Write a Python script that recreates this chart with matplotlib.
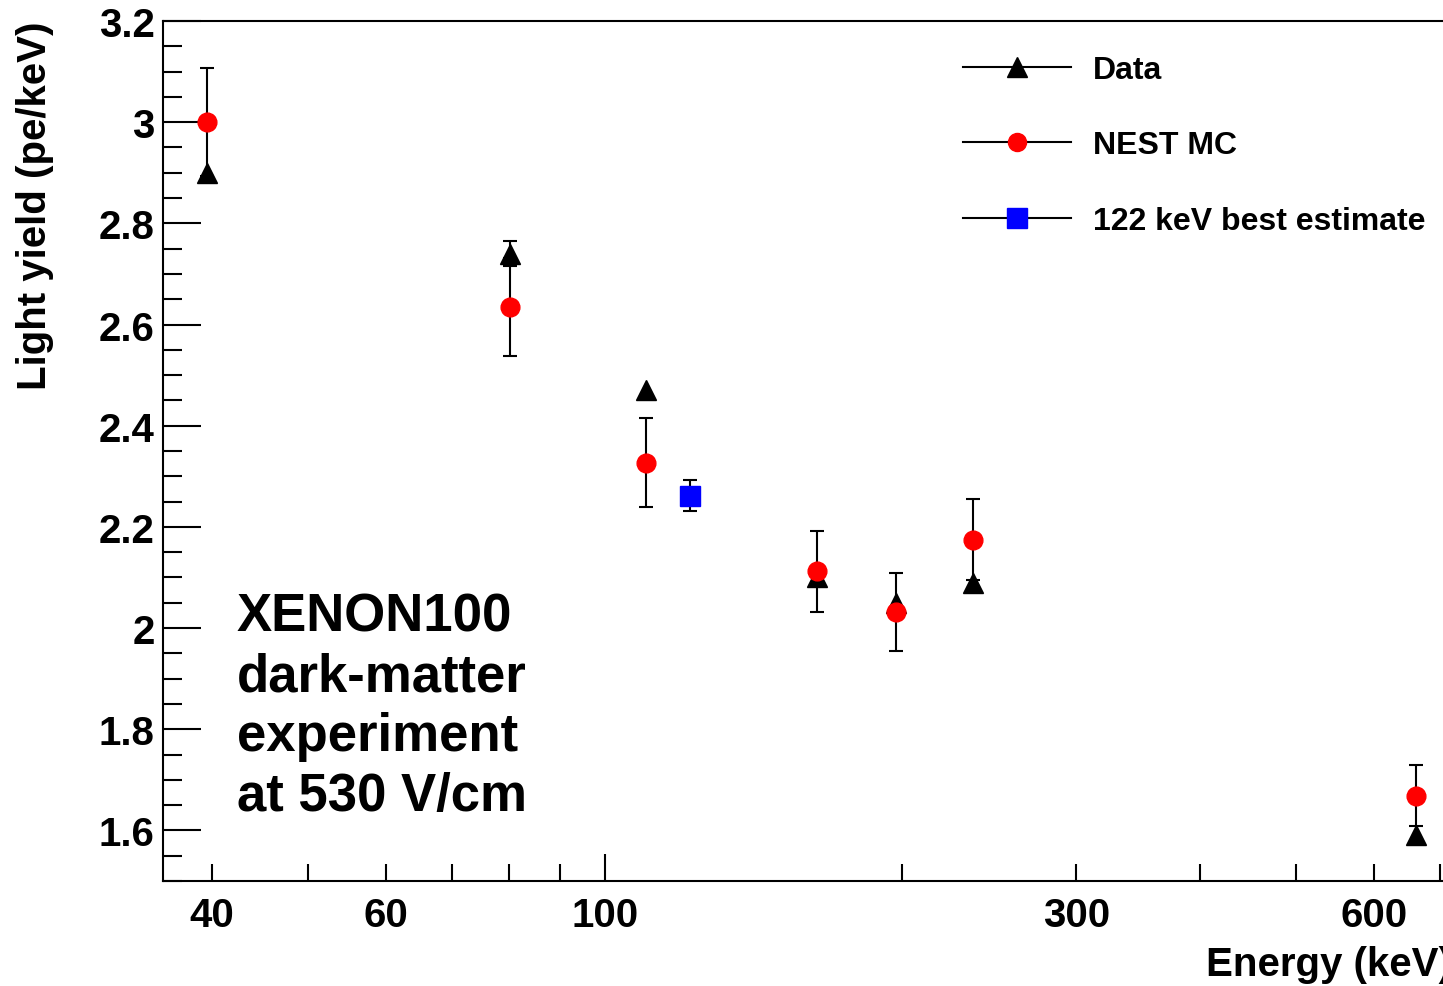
import numpy as np
import matplotlib
matplotlib.use('Agg')
import matplotlib.pyplot as plt
from matplotlib.lines import Line2D

# Datos (energia en keV, rendimiento de luz en pe/keV)
energia = [39.6, 80.2, 110, 164, 197, 236, 662]
datos = [2.90, 2.74, 2.47, 2.10, 2.05, 2.09, 1.59]
datos_err = [np.nan, 0.025, np.nan, np.nan, np.nan, np.nan, np.nan]
nest = [3.00, 2.635, 2.327, 2.112, 2.031, 2.175, 1.669]
nest_err = [0.107, 0.097, 0.088, 0.08, 0.077, 0.08, 0.061]
mejor_x = [122]
mejor_y = [2.262]
mejor_err = [0.03]

etiquetas = ['Data', 'NEST MC', '122 keV best estimate']
texto = 'XENON100\ndark-matter\nexperiment\nat 530 V/cm'

W, H = 1443, 987
fuente = 'Liberation Sans'
plt.rcParams['font.family'] = [fuente, 'DejaVu Sans']
plt.rcParams['font.weight'] = 'bold'

fig = plt.figure(figsize=(W / 100, H / 100), dpi=100)
ax = fig.add_axes([163 / W, 1 - 882 / H, (W - 163) / W, 860 / H])

# Barras de error
ax.errorbar(energia, datos, yerr=datos_err, fmt='none', ecolor='black',
            elinewidth=1.5, capsize=5, capthick=1.5, zorder=2)
ax.errorbar(energia, nest, yerr=nest_err, fmt='none', ecolor='black',
            elinewidth=1.5, capsize=5, capthick=1.5, zorder=2)
ax.errorbar(mejor_x, mejor_y, yerr=mejor_err, fmt='none', ecolor='black',
            elinewidth=1.5, capsize=5, capthick=1.5, zorder=2)

# Marcadores
ax.plot(energia, datos, ls='none', marker='^', ms=14, color='black', zorder=3)
ax.plot(energia, nest, ls='none', marker='o', ms=13.5, color='red', mec='red', zorder=4)
ax.plot(mejor_x, mejor_y, ls='none', marker='s', ms=15, color='blue', mec='blue', zorder=4)

ax.set_xscale('log')
ax.set_xlim(35.7, 705)
ax.set_ylim(1.5, 3.2)

# Ejes y marcas
ax.set_xticks([100], ['100'])
menores = [40, 50, 60, 70, 80, 90, 200, 300, 400, 500, 600, 700]
et_menores = ['40', '', '60', '', '', '', '', '300', '', '', '600', '']
ax.set_xticks(menores, et_menores, minor=True)

yticks = [1.6, 1.8, 2.0, 2.2, 2.4, 2.6, 2.8, 3.0, 3.2]
ylabels = ['1.6', '1.8', '2', '2.2', '2.4', '2.6', '2.8', '3', '3.2']
ax.set_yticks(yticks, ylabels)
ax.set_yticks(np.arange(1.5, 3.21, 0.05), minor=True)

ax.tick_params(axis='x', which='major', direction='in', length=19.5, width=1.5,
               labelsize=29, pad=11, top=False)
ax.tick_params(axis='x', which='minor', direction='in', length=12.5, width=1.5,
               labelsize=29, pad=11, top=False)
ax.tick_params(axis='y', which='major', direction='in', length=27, width=1.5,
               labelsize=29, pad=6, right=False)
ax.tick_params(axis='y', which='minor', direction='in', length=14, width=1.5,
               right=False)
for lab in ax.get_xticklabels(which='both') + ax.get_yticklabels():
    lab.set_fontweight('bold')

for s in ['left', 'bottom', 'top']:
    ax.spines[s].set_linewidth(1.5)
ax.spines['right'].set_visible(False)

# Etiquetas de ejes
fig.text(35 / W, 1 - 22 / H, 'Light yield (pe/keV)', rotation=90, ha='center',
         va='top', fontsize=29, fontweight='bold')
fig.text(1452 / W, 1 - 965 / H, 'Energy (keV)', ha='right', va='center',
         fontsize=29, fontweight='bold')

# Texto
fig.text(237 / W, 1 - 592 / H, texto, ha='left', va='top', fontsize=38,
         fontweight='bold', linespacing=1.26)

# Leyenda
manijas = [
    Line2D([], [], color='black', lw=1.5, marker='^', ms=14, mfc='black', mec='black'),
    Line2D([], [], color='black', lw=1.5, marker='o', ms=13, mfc='red', mec='red'),
    Line2D([], [], color='black', lw=1.5, marker='s', ms=15, mfc='blue', mec='blue'),
]
ax.legend(manijas, etiquetas, loc='upper left',
          bbox_to_anchor=(963 / W, 1 - 56 / H), bbox_transform=fig.transFigure,
          frameon=False, borderpad=0, borderaxespad=0,
          handlelength=3.38, handletextpad=0.69, labelspacing=1.42,
          prop={'family': fuente, 'weight': 'bold', 'size': 23})

fig.savefig('out.png', dpi=100)
